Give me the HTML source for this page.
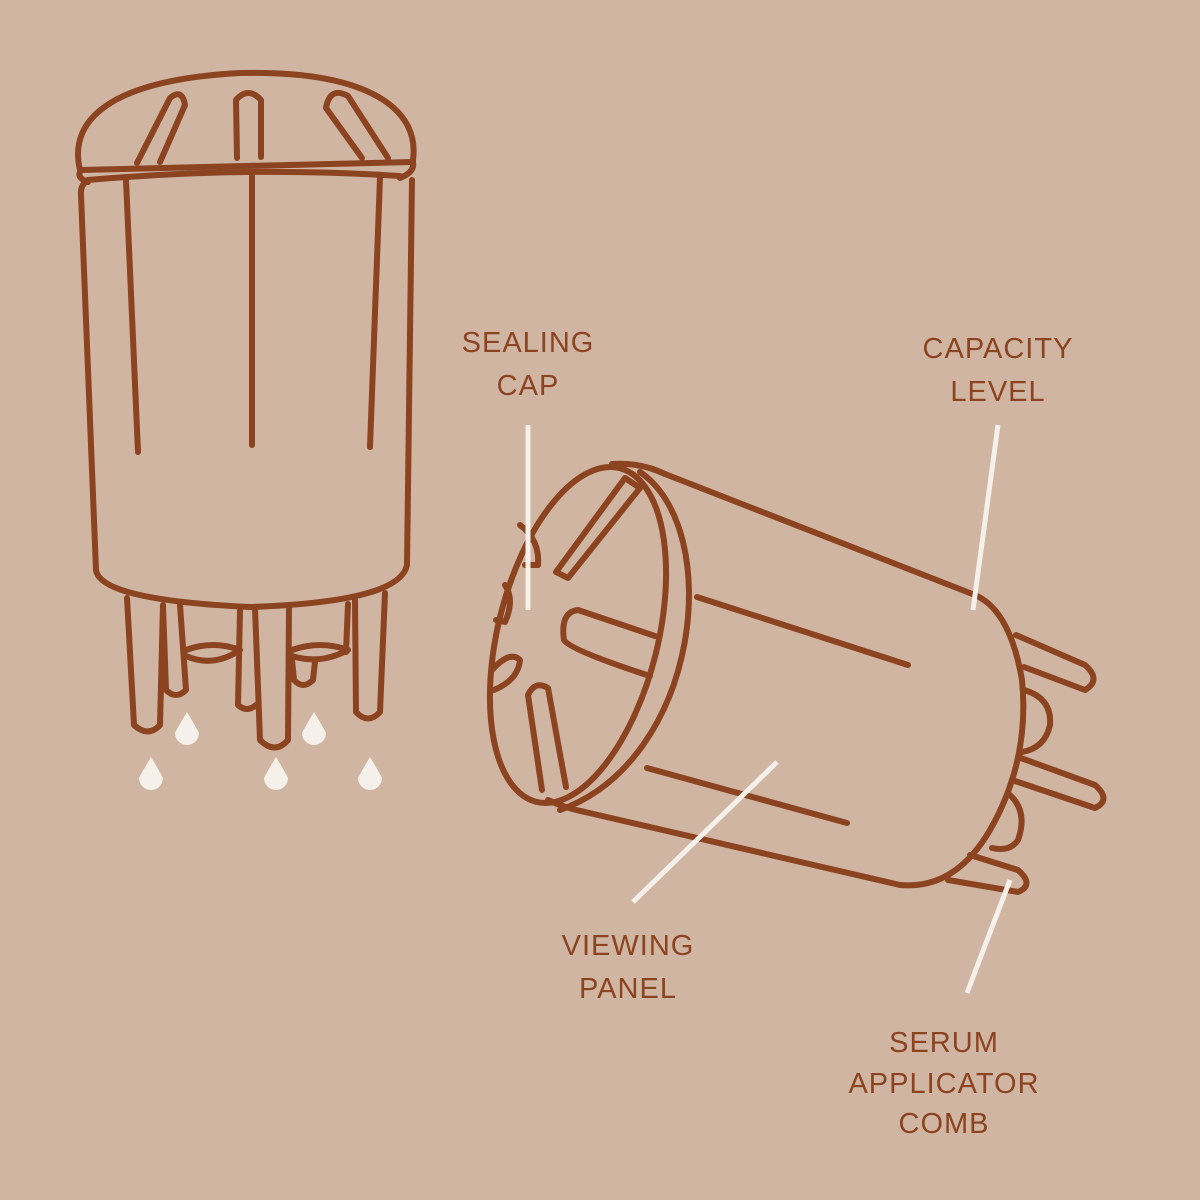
<!DOCTYPE html>
<html><head><style>
html,body{margin:0;padding:0;background:#D0B5A3;}
svg{display:block}
text{font-family:"Liberation Sans",sans-serif;font-size:29px;fill:#8B4320;letter-spacing:1px}
</style></head><body>
<svg width="1200" height="1200" viewBox="0 0 1200 1200" xmlns="http://www.w3.org/2000/svg">
<rect width="1200" height="1200" fill="#D0B5A3"/>
<g fill="none" stroke="#8B4320" stroke-width="6" stroke-linecap="round" stroke-linejoin="round">
<path d="M80,170 C68,120 110,80 240,73 C370,70 420,110 413,160 L413,162"/>
<path d="M80,170 L413,162"/>
<path d="M137,163 L170,98 Q182,88 185,105 L160,162"/>
<path d="M237,158 L236,100 Q248,86 261,100 L261,157"/>
<path d="M362,158 L326,108 Q330,86 348,96 L388,158"/>
<path d="M413,162 Q415,172 400,178"/>
<path d="M80,172 Q77,178 88,182"/>
<path d="M88,180 Q80,185 81,195 L96,570 Q100,600 250,607 Q400,602 407,565 L412,180"/>
<path d="M88,180 Q250,166 400,176"/>
<path d="M126,180 L138,452"/>
<path d="M252,176 L252,445"/>
<path d="M380,178 L370,447"/>
<path d="M127,598 L134,725 Q148,738 160,725 L163,605"/>
<path d="M163,606 L166,690 Q176,700 186,690 L180,605"/>
<path d="M186,650 Q213,640 240,650 Q213,668 186,656"/>
<path d="M240,610 L238,705 Q247,713 256,705"/>
<path d="M255,608 L260,740 Q275,755 288,740 L289,608"/>
<path d="M292,650 Q320,640 348,650 Q320,665 292,656"/>
<path d="M292,660 L294,680 Q303,690 313,680 L315,662"/>
<path d="M348,604 L346,652"/>
<path d="M355,600 L356,712 Q368,725 380,712 L385,593"/>
<ellipse cx="578" cy="635" rx="80" ry="172" transform="rotate(14 578 635)"/>
<path d="M612,464 Q640,462 665,474"/>
<path d="M640,472 C725,530 700,760 560,810"/>
<path d="M548,800 Q565,808 585,812"/>
<path d="M665,474 L975,595 Q1010,610 1022,680 Q1030,760 990,830 Q955,890 900,885 L585,812"/>
<path d="M697,597 L908,665"/>
<path d="M647,768 L847,823"/>
<path d="M556,572 L625,478 L640,488 L568,578 Z"/>
<path d="M655,636 L578,610 Q560,612 564,640 Q570,650 650,676"/>
<path d="M542,790 L528,695 Q535,680 548,688 L566,787"/>
<path d="M520,525 Q540,540 538,565 L525,565"/>
<path d="M505,585 Q515,600 505,622 L496,620"/>
<path d="M492,670 Q510,650 520,660 Q518,680 494,690"/>
<path d="M1016,635 L1085,665 Q1102,680 1085,690 L1024,667"/>
<path d="M1024,690 Q1052,698 1050,725 Q1045,748 1022,752"/>
<path d="M1018,757 L1095,785 Q1112,800 1095,808 L1012,780"/>
<path d="M1010,795 Q1028,812 1018,840 Q1010,852 992,848"/>
<path d="M970,855 L1018,870 Q1035,885 1018,892 L948,880"/>
</g>
<g stroke="#F5F0EA" stroke-width="5" fill="none">
<line x1="528" y1="425" x2="528" y2="610"/>
<line x1="998" y1="425" x2="973" y2="610"/>
<line x1="777" y1="762" x2="633" y2="902"/>
<line x1="1010" y1="880" x2="967" y2="993"/>
</g>
<g fill="#F5F0EA">
<path d="M151,757 Q160,772 163,778 A12,12 0 1 1 139,778 Q142,772 151,757Z"/>
<path d="M187,712 Q196,727 199,733 A12,12 0 1 1 175,733 Q178,727 187,712Z"/>
<path d="M276,757 Q285,772 288,778 A12,12 0 1 1 264,778 Q267,772 276,757Z"/>
<path d="M314,712 Q323,727 326,733 A12,12 0 1 1 302,733 Q305,727 314,712Z"/>
<path d="M370,757 Q379,772 382,778 A12,12 0 1 1 358,778 Q361,772 370,757Z"/>
</g>
<text x="528" y="352" text-anchor="middle">SEALING</text>
<text x="528" y="395" text-anchor="middle">CAP</text>
<text x="998" y="358" text-anchor="middle">CAPACITY</text>
<text x="998" y="401" text-anchor="middle">LEVEL</text>
<text x="628" y="955" text-anchor="middle">VIEWING</text>
<text x="628" y="998" text-anchor="middle">PANEL</text>
<text x="944" y="1052" text-anchor="middle">SERUM</text>
<text x="944" y="1093" text-anchor="middle">APPLICATOR</text>
<text x="944" y="1133" text-anchor="middle">COMB</text>
</svg>
</body></html>
